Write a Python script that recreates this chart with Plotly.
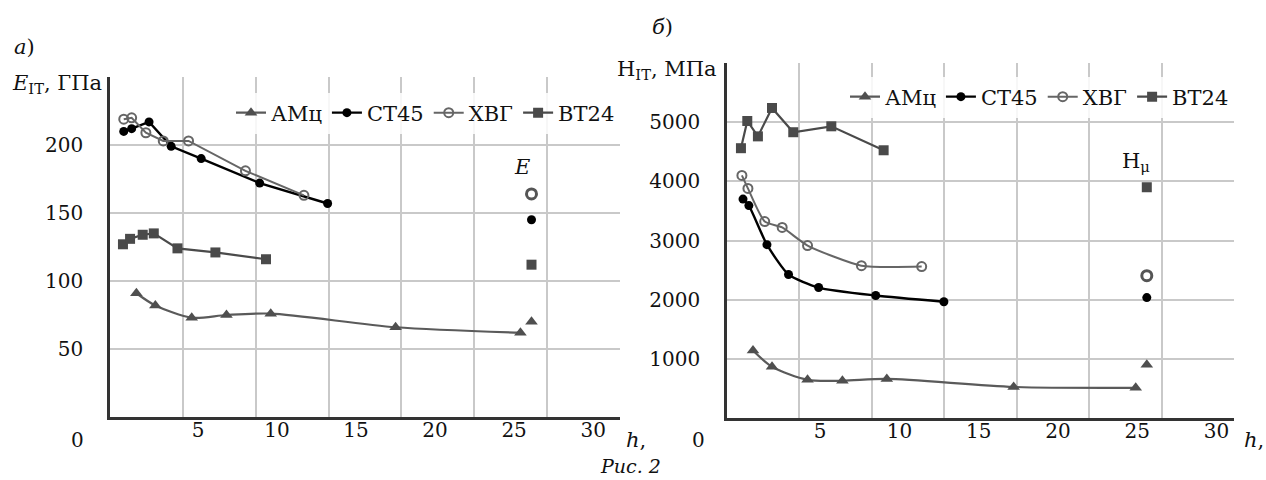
import plotly.graph_objects as go

# ---------------- data ----------------
series = ["АМц", "СТ45", "ХВГ", "ВТ24"]

# a) modulus E_IT, GPa vs h
h_amc_E = [1.1, 2.3, 4.6, 6.8, 9.6, 17.5, 25.4]
E_amc = [91, 82, 73, 75, 76, 66, 62]
h_st45_E = [0.3, 0.8, 1.9, 3.3, 5.2, 8.9, 13.2]
E_st45 = [210, 212, 217, 199, 190, 172, 157]
h_xvg_E = [0.3, 0.8, 1.7, 2.8, 4.4, 8.0, 11.7]
E_xvg = [219, 220, 209, 203, 203, 181, 163]
h_vt24_E = [0.25, 0.7, 1.5, 2.2, 3.7, 6.1, 9.3]
E_vt24 = [127, 131, 134, 135, 124, 121, 116]
h_ref_E = 26.1
E_ref = [70, 145, 164, 112]          # АМц, СТ45, ХВГ, ВТ24

# б) hardness H_IT, MPa vs h
h_amc_H = [0.76, 1.96, 4.2, 6.4, 9.2, 17.2, 24.9]
H_amc = [1140, 865, 645, 630, 660, 525, 510]
h_st45_H = [0.13, 0.5, 1.64, 3.0, 4.9, 8.5, 12.8]
H_st45 = [3700, 3590, 2930, 2425, 2205, 2070, 1965]
h_xvg_H = [0.06, 0.44, 1.5, 2.6, 4.2, 7.6, 11.4]
H_xvg = [4100, 3880, 3320, 3220, 2915, 2575, 2560]
h_vt24_H = [0.0, 0.4, 1.07, 1.96, 3.3, 5.7, 9.0]
H_vt24 = [4560, 5020, 4760, 5240, 4830, 4930, 4525]
h_ref_H = 25.6
H_ref = [900, 2035, 2405, 3900]       # АМц, СТ45, ХВГ, ВТ24

x_ticks = [5, 10, 15, 20, 25, 30]
E_ticks = [50, 100, 150, 200]
E_top = 250
H_ticks = [1000, 2000, 3000, 4000, 5000]
H_top = 6000
GRID_COLUMNS = 7                      # the scanned grid has 7 equal columns

# ---------------- styles ----------------
FONT = "DejaVu Serif, serif"
W, H = 1266, 480
GRID = "#c9c9c9"
AXIS = "#333333"
TXT = "#111111"

sty = {
    "АМц": dict(marker=dict(symbol="triangle-up", size=11, color="#4f4f4f"),
                line=dict(color="#5a5a5a", width=2.2, shape="spline", smoothing=0.8)),
    "СТ45": dict(marker=dict(symbol="circle", size=9, color="#000000"),
                 line=dict(color="#000000", width=2.4)),
    "ХВГ": dict(marker=dict(symbol="circle-open", size=9, color="#666666", line=dict(width=2)),
                line=dict(color="#666666", width=2)),
    "ВТ24": dict(marker=dict(symbol="square", size=10, color="#4a4a4a"),
                 line=dict(color="#4a4a4a", width=2.2)),
}

def px_x(p):
    return p / W

def px_y(p):
    return 1 - p / H

fig = go.Figure()

left = [(h_amc_E, E_amc), (h_st45_E, E_st45), (h_xvg_E, E_xvg), (h_vt24_E, E_vt24)]
right = [(h_amc_H, H_amc), (h_st45_H, H_st45), (h_xvg_H, H_xvg), (h_vt24_H, H_vt24)]

for name, (xs, ys) in zip(series, left):
    s = sty[name]
    line = dict(s["line"])
    if name != "АМц":
        line["shape"] = "linear"
    fig.add_trace(go.Scatter(x=xs, y=ys, mode="lines+markers", name=name,
                             marker=s["marker"], line=line,
                             xaxis="x", yaxis="y", legend="legend"))
for name, (xs, ys) in zip(series, right):
    s = sty[name]
    line = dict(s["line"])
    if name in ("СТ45", "ХВГ"):
        line["shape"] = "spline"
        line["smoothing"] = 0.6
    if name == "ВТ24":
        line["shape"] = "linear"
    fig.add_trace(go.Scatter(x=xs, y=ys, mode="lines+markers", name=name,
                             marker=s["marker"], line=line,
                             xaxis="x2", yaxis="y2", legend="legend2"))

# isolated reference points E and H_mu
for name, e, hh in zip(series, E_ref, H_ref):
    m = dict(sty[name]["marker"])
    if name == "ХВГ":
        m = dict(symbol="circle-open", size=10, color="#555555", line=dict(width=3))
    fig.add_trace(go.Scatter(x=[h_ref_E], y=[e], mode="markers", marker=m,
                             showlegend=False, xaxis="x", yaxis="y"))
    fig.add_trace(go.Scatter(x=[h_ref_H], y=[hh], mode="markers", marker=m,
                             showlegend=False, xaxis="x2", yaxis="y2"))

tickfont = dict(family=FONT, size=20, color=TXT)

def xaxis(domain, rng, anchor):
    step = (rng[1] - rng[0]) / GRID_COLUMNS
    return dict(domain=domain, range=rng, anchor=anchor,
                tickvals=x_ticks, ticktext=[str(v) for v in x_ticks],
                showgrid=False, zeroline=False, showline=True, linecolor=AXIS, linewidth=2.5,
                ticks="", tickfont=tickfont, ticklabelstandoff=-7,
                minor=dict(tickmode="linear", tick0=rng[0], dtick=step, showgrid=True,
                           gridcolor=GRID, gridwidth=1.5, ticks=""),
                automargin=False, fixedrange=True)

def yaxis(domain, top, ticks, anchor):
    return dict(domain=domain, range=[0, top], anchor=anchor,
                tickvals=ticks, ticktext=[str(v) for v in ticks],
                showgrid=True, gridcolor=GRID, gridwidth=1.5, zeroline=False,
                showline=True, linecolor=AXIS, linewidth=2.5, ticks="",
                minor=dict(tickmode="array", tickvals=[top], showgrid=True,
                           gridcolor=GRID, gridwidth=1.5, ticks=""),
                tickfont=tickfont, ticklabelstandoff=20, automargin=False, fixedrange=True)

dom_xl = [px_x(110), px_x(620)]
dom_yl = [px_y(417), px_y(77)]
dom_xr = [px_x(727), px_x(1234)]
dom_yr = [px_y(418), px_y(63)]

legend_common = dict(orientation="h", bgcolor="rgba(255,255,255,0.85)", borderwidth=0,
                     font=dict(family=FONT, size=21, color=TXT), itemwidth=30,
                     xanchor="right", yanchor="middle", traceorder="normal",
                     itemclick=False, itemdoubleclick=False)

def ann(text, x, y, size=21, xanchor="center", italic=False):
    if italic:
        text = "<i>" + text + "</i>"
    return dict(text=text, x=px_x(x), y=px_y(y), xref="paper", yref="paper",
                showarrow=False, xanchor=xanchor, yanchor="middle",
                font=dict(family=FONT, size=size, color=TXT))

annotations = [
    ann("<i>а</i>)", 24, 47),
    ann("<i>E</i><sub>IT</sub>, ГПа", 104, 84, xanchor="right"),
    ann("0", 77, 440, size=20),
    ann("<i>h</i>,", 636, 440),
    ann("<i>E</i>", 522, 167),
    ann("<i>б</i>)", 662, 27),
    ann("H<sub>IT</sub>, МПа", 719, 70, xanchor="right"),
    ann("0", 698, 440, size=20),
    ann("<i>h</i>,", 1254, 440),
    ann("H<sub>μ</sub>", 1136, 162),
    ann("Рис. 2", 630, 466, size=19, italic=True),
]

fig.update_layout(
    width=W, height=H,
    margin=dict(l=0, r=0, t=0, b=0),
    paper_bgcolor="white", plot_bgcolor="white",
    font=dict(family=FONT, color=TXT),
    xaxis=xaxis(dom_xl, [-0.57, 31.7], "y"),
    yaxis=yaxis(dom_yl, E_top, E_ticks, "x"),
    xaxis2=xaxis(dom_xr, [-0.88, 31.1], "y2"),
    yaxis2=yaxis(dom_yr, H_top, H_ticks, "x2"),
    legend=legend_common | dict(x=px_x(620), y=px_y(113)),
    legend2=legend_common | dict(x=px_x(1234), y=px_y(97)),
    annotations=annotations,
    showlegend=True,
)

fig.write_html("out.html", config={"displayModeBar": False},
               post_script="document.body.style.margin='0px';")
